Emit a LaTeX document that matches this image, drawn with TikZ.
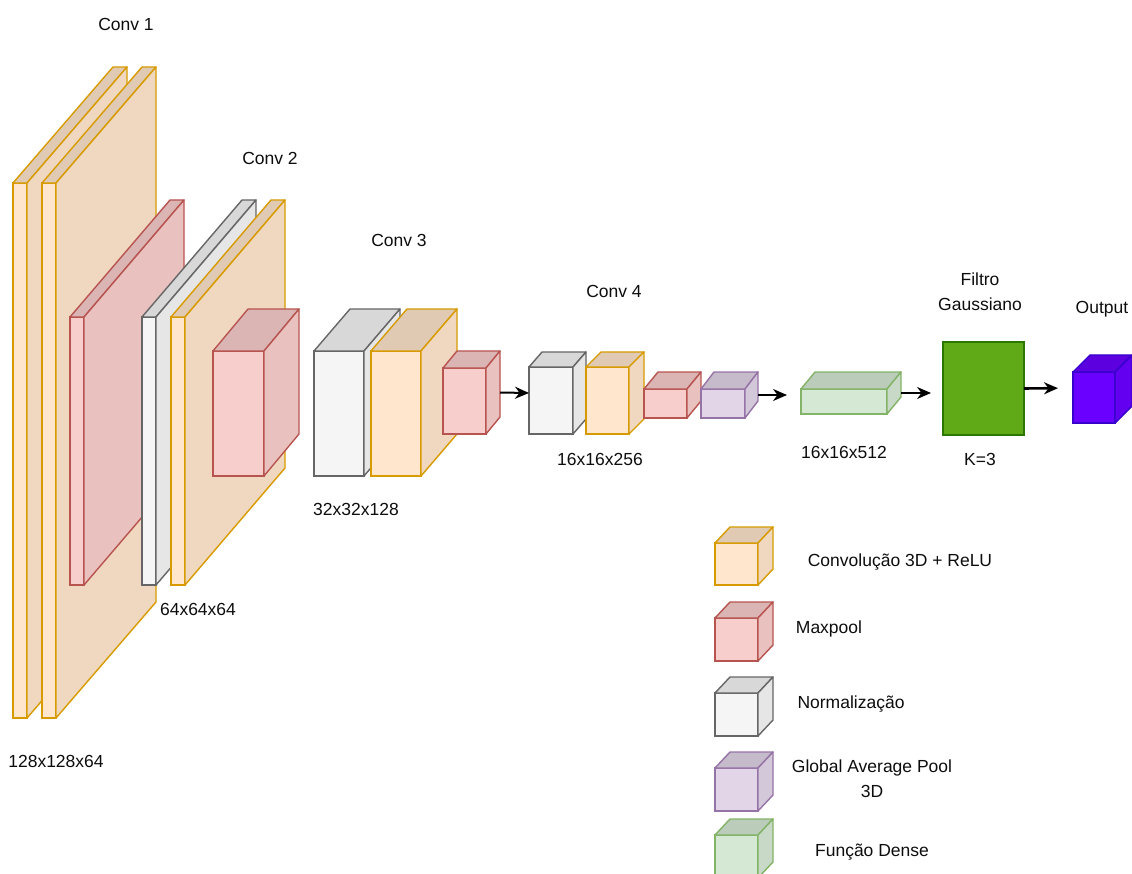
\documentclass[tikz,border=0pt]{standalone}
\usepackage{fontspec}
\setmainfont{Liberation Sans}
\usepackage{xcolor}
\usepackage{tikz}
\usetikzlibrary{arrows.meta,positioning}

\definecolor{convF}{HTML}{FFE6CC}
\definecolor{convB}{HTML}{D79B00}
\definecolor{poolF}{HTML}{F8CECC}
\definecolor{poolB}{HTML}{B85450}
\definecolor{normF}{HTML}{F5F5F5}
\definecolor{normB}{HTML}{666666}
\definecolor{gapF}{HTML}{E1D5E7}
\definecolor{gapB}{HTML}{9673A6}
\definecolor{densF}{HTML}{D5E8D4}
\definecolor{densB}{HTML}{82B366}
\definecolor{saidaF}{HTML}{6A00FF}
\definecolor{saidaB}{HTML}{3700CC}
\definecolor{filtroF}{HTML}{60A917}
\definecolor{filtroB}{HTML}{2D7600}

\begin{document}
\begin{tikzpicture}[x=1pt, y=-1pt,
	bloco/.style={draw=#1B, fill=#1F, line width=1.4pt, inner sep=0pt, outer sep=0pt, anchor=north west},
	topo/.style={draw=#1B, fill=#1F!88!black, line width=1.4pt, line join=round},
	lado/.style={draw=#1B, fill=#1F!94!black, line width=1.4pt, line join=round},
	rotulo/.style={font=\fontsize{17.5}{25}\selectfont, text=black!95, inner sep=0pt, align=center, anchor=base},
	seta/.style={-{Stealth[length=14pt, width=12pt]}, line width=2pt}]
	\useasboundingbox (0,0) rectangle (1132,874);
	\clip (0,0) rectangle (1132,874);
	% camadas: frente + topo + lado
	\foreach \nome/\x/\y/\w/\h/\dx/\dy/\tipo in {
		c1a/13/183/14/535/100/116/conv, c1b/42/183/14/535/100/116/conv,
		mp1/70/317/14/268/100/117/pool, bn1/142/317/14/268/100/117/norm,
		c2/171/317/14/268/100/117/conv, mp2/213/351/51/125/35/42/pool,
		bn2/314/351/50/125/36/42/norm, c3/371/351/50/125/36/42/conv,
		mp3/443/368/43/66/14/17/pool, bn3/529/367/44/67/13/15/norm,
		c4/586/367/43/67/15/15/conv, mp4/644/389/43/29/14/17/pool,
		gap/701/389/44/29/13/17/gap, dens/801/389/86/25/14/17/dens,
		out/1073/372/42/51/17/17/saida,
		l1/715/543/43/42/15/16/conv, l2/715/618/43/43/15/16/pool,
		l3/715/693/43/43/15/16/norm, l4/715/768/43/43/15/16/gap,
		l5/715/835/43/43/15/16/dens}
	{
		\node[bloco=\tipo, minimum width=\w pt, minimum height=\h pt] (\nome) at (\x,\y) {};
		\draw[topo=\tipo] (\nome.north west) -- ++(\dx,-\dy) -- ([shift={(\dx,-\dy)}]\nome.north east) -- (\nome.north east) -- cycle;
		\draw[lado=\tipo] (\nome.north east) -- ++(\dx,-\dy) -- ([shift={(\dx,-\dy)}]\nome.south east) -- (\nome.south east) -- cycle;
	}
	% filtro gaussiano
	\node[bloco=filtro, minimum width=81pt, minimum height=93pt] (gauss) at (943,342) {};
	% setas
	\draw[seta] ([shift={(14,-8.5)}]mp3.east) -- ([shift={(0,-7.5)}]bn3.west);
	\draw[seta, shorten >=14pt] ([shift={(13,-8.5)}]gap.east) -- ([shift={(0,-6.5)}]dens.west);
	\draw[seta, shorten >=12pt] ([shift={(14,-8.5)}]dens.east) -- ([shift={(0,4.5)}]gauss.west);
	\draw[seta, line width=2.6pt, shorten >=15pt] (gauss.east) -- ([shift={(0,-9.5)}]out.west);
	% titulos
	\node[rotulo] (tc1) at (126,31) {Conv 1};
	\node[rotulo] (tc2) at (270,165) {Conv 2};
	\node[rotulo] (tc3) at (399,247) {Conv 3};
	\node[rotulo] (tc4) at (614,298) {Conv 4};
	\node[rotulo] (tfil) at (980,311) {Filtro\\Gaussiano};
	\node[rotulo] (tout) at (1102,314) {Output};
	% dimensoes
	\node[rotulo] (d1) at (56,767) {128x128x64};
	\node[rotulo] (d2) at (198,615) {64x64x64};
	\node[rotulo] (d3) at (356,515) {32x32x128};
	\node[rotulo] (d4) at (600,465) {16x16x256};
	\node[rotulo] (d5) at (844,458) {16x16x512};
	\node[rotulo] (tk) at (980,465) {K=3};
	% legenda
	\node[rotulo] (g1) at (900,566) {Convolução 3D + ReLU};
	\node[rotulo] (g2) at (829,633) {Maxpool};
	\node[rotulo] (g3) at (851,708) {Normalização};
	\node[rotulo] (g4) at (872,797) {Global Average Pool\\3D};
	\node[rotulo] (g5) at (872,856) {Função Dense};
\end{tikzpicture}
\end{document}
